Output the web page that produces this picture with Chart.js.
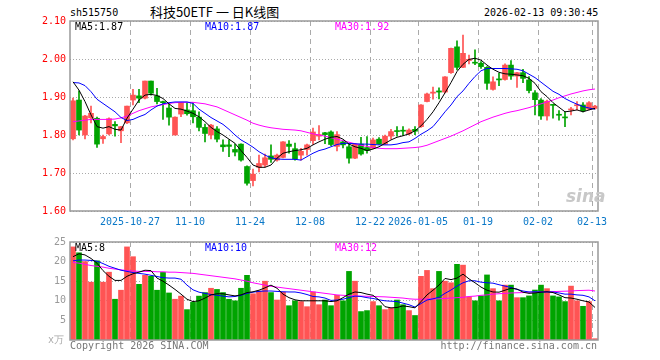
<!DOCTYPE html>
<html>
<head>
<meta charset="utf-8">
<script src="https://cdn.jsdelivr.net/npm/chart.js@4.4.1/dist/chart.umd.min.js"></script>
<style>
  body { margin: 0; background: #fff; width: 660px; height: 360px; overflow: hidden; position: relative; }
  canvas { position: absolute; left: 0; }
  #priceChart { top: 0; }
  #volChart { top: 232px; }
  .t { position: absolute; white-space: nowrap; font: 10px/10px "DejaVu Sans Mono", monospace; color: #000; }
</style>
</head>
<body>
<div class="t" style="left:70px;top:8px">sh515750</div>
<div class="t" style="left:150px;top:5px;font:13px/13px 'Noto Sans CJK SC'">科技50ETF 一 日K线图</div>
<div class="t" style="left:484px;top:8px">2026-02-13 09:30:45</div>
<canvas id="priceChart" width="660" height="232"></canvas>
<canvas id="volChart" width="660" height="128"></canvas>
<div class="t" style="left:566px;top:188px;font:italic bold 17px/17px 'DejaVu Sans';color:#c8c8c8">sina</div>
<div class="t" style="left:48px;top:335px;color:#aaa">x万</div>
<div class="t" style="left:70px;top:341px;color:#777">Copyright 2026 SINA.COM</div>
<div class="t" style="right:63px;top:341px;color:#777">http://finance.sina.com.cn</div>

<script>
const RED = "#ff5454";
const GREEN = "#00a400";
const GRID = "#aaa";
const MONO = "DejaVu Sans Mono";

// x ticks (candle index -> date label)
const tickPos = [10, 20, 30, 40, 50, 58, 68, 78, 87];
const tickLabels = ["2025-10-27", "11-10", "11-24", "12-08", "12-22", "2026-01-05", "01-19", "02-02", "02-13"];
const priceTicks = [1.6, 1.7, 1.8, 1.9, 2.0, 2.1];
const volTicks = [5, 10, 15, 20, 25];

const open = [1.790,1.892,1.800,1.845,1.844,1.790,1.803,1.828,1.811,1.832,
  1.892,1.903,1.897,1.942,1.903,1.888,1.871,1.800,1.855,1.866,
  1.864,1.847,1.820,1.800,1.816,1.774,1.774,1.762,1.776,1.717,
  1.680,1.715,1.721,1.745,1.734,1.741,1.776,1.764,1.747,1.762,
  1.785,1.797,1.806,1.808,1.770,1.782,1.769,1.739,1.776,1.767,
  1.765,1.789,1.776,1.797,1.811,1.811,1.803,1.815,1.822,1.888,
  1.910,1.916,1.913,1.964,2.032,1.978,1.996,1.991,1.989,1.978,
  1.920,1.947,1.946,1.984,1.955,1.964,1.945,1.911,1.892,1.850,
  1.880,1.854,1.847,1.866,1.877,1.879,1.868,1.870];
const high = [1.897,1.916,1.852,1.876,1.847,1.800,1.845,1.835,1.823,1.876,
  1.920,1.920,1.942,1.942,1.923,1.889,1.882,1.848,1.886,1.885,
  1.885,1.861,1.829,1.828,1.822,1.787,1.787,1.776,1.777,1.719,
  1.710,1.747,1.750,1.774,1.750,1.783,1.785,1.779,1.765,1.776,
  1.818,1.825,1.807,1.811,1.809,1.785,1.776,1.777,1.794,1.796,
  1.792,1.793,1.800,1.815,1.822,1.822,1.816,1.822,1.880,1.910,
  1.926,1.924,1.954,2.029,2.048,2.063,2.010,2.024,1.993,1.980,
  1.953,1.962,1.987,1.996,1.965,1.973,1.954,1.917,1.896,1.892,
  1.880,1.864,1.861,1.873,1.888,1.885,1.888,1.878];
const low = [1.787,1.800,1.790,1.832,1.767,1.778,1.800,1.797,1.780,1.830,
  1.879,1.885,1.895,1.905,1.882,1.841,1.826,1.800,1.848,1.852,
  1.832,1.811,1.782,1.790,1.782,1.757,1.743,1.745,1.731,1.668,
  1.666,1.703,1.716,1.728,1.731,1.740,1.752,1.734,1.734,1.747,
  1.775,1.787,1.777,1.772,1.758,1.766,1.726,1.738,1.747,1.752,
  1.764,1.775,1.775,1.789,1.797,1.799,1.800,1.801,1.820,1.887,
  1.894,1.895,1.911,1.962,1.971,1.977,1.987,1.985,1.975,1.920,
  1.918,1.930,1.944,1.946,1.925,1.938,1.911,1.853,1.841,1.839,
  1.844,1.839,1.822,1.853,1.866,1.861,1.866,1.868];
const close = [1.890,1.813,1.850,1.857,1.776,1.796,1.843,1.824,1.822,1.876,
  1.905,1.897,1.942,1.910,1.888,1.885,1.847,1.847,1.885,1.856,
  1.848,1.820,1.804,1.826,1.789,1.769,1.770,1.755,1.734,1.673,
  1.697,1.725,1.740,1.736,1.747,1.782,1.770,1.737,1.757,1.774,
  1.808,1.801,1.801,1.775,1.801,1.774,1.739,1.776,1.750,1.759,
  1.787,1.776,1.797,1.809,1.809,1.810,1.813,1.810,1.879,1.908,
  1.913,1.913,1.953,2.028,1.978,2.015,1.999,1.989,1.980,1.936,
  1.940,1.945,1.984,1.955,1.964,1.949,1.917,1.893,1.850,1.889,
  1.878,1.852,1.845,1.868,1.879,1.864,1.885,1.876];

const ma5 = [1.940,1.918,1.888,1.853,1.822,1.818,1.822,1.815,1.813,1.844,
  1.868,1.892,1.905,1.907,1.904,1.896,1.882,1.870,1.868,1.863,
  1.857,1.848,1.835,1.820,1.809,1.800,1.789,1.778,1.759,1.741,
  1.721,1.715,1.715,1.721,1.739,1.752,1.756,1.759,1.761,1.765,
  1.774,1.782,1.789,1.794,1.796,1.789,1.776,1.769,1.765,1.759,
  1.763,1.769,1.778,1.787,1.794,1.798,1.803,1.811,1.824,1.841,
  1.861,1.885,1.911,1.938,1.967,1.986,1.999,2.002,1.997,1.984,
  1.973,1.965,1.961,1.960,1.958,1.956,1.949,1.936,1.914,1.901,
  1.885,1.873,1.861,1.863,1.866,1.861,1.866,1.870];
const ma10 = [1.938,1.937,1.930,1.914,1.894,1.883,1.872,1.861,1.846,1.838,
  1.841,1.848,1.854,1.866,1.876,1.882,1.885,1.887,1.887,1.887,
  1.883,1.868,1.857,1.846,1.837,1.828,1.815,1.800,1.787,1.778,
  1.768,1.756,1.747,1.740,1.737,1.736,1.736,1.736,1.734,1.743,
  1.752,1.759,1.763,1.769,1.775,1.778,1.778,1.777,1.776,1.776,
  1.775,1.774,1.774,1.774,1.776,1.780,1.782,1.791,1.802,1.811,
  1.822,1.841,1.861,1.879,1.901,1.916,1.936,1.954,1.969,1.975,
  1.975,1.975,1.975,1.974,1.973,1.969,1.960,1.951,1.939,1.927,
  1.915,1.907,1.896,1.888,1.881,1.875,1.871,1.868];
const ma30 = [1.835,1.837,1.839,1.841,1.841,1.841,1.841,1.842,1.845,1.850,
  1.857,1.864,1.869,1.874,1.877,1.880,1.883,1.885,1.886,1.886,
  1.886,1.884,1.882,1.878,1.874,1.867,1.860,1.853,1.846,1.839,
  1.831,1.826,1.822,1.819,1.817,1.815,1.814,1.813,1.811,1.807,
  1.803,1.800,1.797,1.793,1.789,1.785,1.781,1.777,1.773,1.770,
  1.767,1.765,1.764,1.764,1.764,1.765,1.766,1.767,1.769,1.773,
  1.779,1.785,1.791,1.797,1.804,1.811,1.819,1.827,1.835,1.841,
  1.847,1.852,1.857,1.861,1.864,1.868,1.872,1.877,1.882,1.887,
  1.892,1.898,1.903,1.908,1.912,1.916,1.919,1.921];

// volume, in 万
const vol = [23.75,22.25,20.0,14.75,20.2,14.75,17.3,10.4,12.7,23.75,
  21.25,14.2,16.5,16.25,12.7,17.25,12.0,10.4,11.2,7.75,
  9.6,11.2,12.1,13.2,12.9,12.1,10.4,10.0,13.2,16.5,
  11.8,12.5,15.0,12.1,10.2,12.2,8.75,10.0,9.8,8.5,
  12.25,9.0,10.2,8.75,11.4,10.0,17.5,15.0,7.25,7.5,
  9.8,8.75,7.75,8.1,10.2,9.0,7.5,6.25,16.25,17.75,
  13.1,17.5,15.0,14.6,19.3,19.1,11.0,10.0,11.25,16.6,
  13.1,10.0,14.0,14.0,10.8,10.8,11.25,12.75,14.0,13.1,
  11.25,11.0,9.8,13.75,10.0,8.6,9.8,0.33];
const vma5 = [21.25,22.0,21.7,20.8,19.6,17.7,16.25,15.2,15.2,16.25,
  16.9,17.3,17.8,17.7,15.8,15.0,14.0,12.9,11.7,10.4,
  9.8,10.0,10.7,11.5,11.8,11.8,11.5,11.25,11.5,12.1,
  12.3,12.7,13.3,14.0,13.2,11.7,10.8,10.25,10.0,10.0,
  10.0,10.0,10.0,9.8,10.0,10.8,11.7,12.25,12.1,11.7,
  11.4,10.2,8.5,8.2,8.3,8.7,8.5,8.2,9.8,11.5,
  12.7,14.0,15.7,15.4,15.8,16.8,15.6,14.6,13.5,12.7,
  12.25,12.2,12.7,13.2,13.0,12.2,11.9,12.0,12.2,12.3,
  12.1,11.5,10.8,10.7,10.4,10.0,9.7,8.3];
const vma10 = [20.2,20.4,20.4,20.3,20.1,19.5,18.8,18.3,17.8,17.5,
  17.2,17.0,16.8,16.5,16.2,15.9,15.8,15.8,15.5,14.0,
  12.8,12.2,11.9,11.6,11.4,11.2,11.0,11.1,11.4,11.9,
  12.2,12.4,12.5,12.5,12.4,12.3,12.25,12.25,12.0,11.6,
  11.1,11.0,10.7,10.1,10.2,10.4,10.8,11.2,11.1,10.8,
  10.6,10.25,10.0,9.9,9.8,9.4,9.0,8.4,9.3,10.2,
  10.5,10.9,11.9,12.75,13.75,14.6,15.1,15.1,14.75,14.6,
  14.5,14.1,13.75,13.4,12.9,12.5,12.25,12.3,12.25,12.25,
  12.25,12.0,11.7,11.7,11.5,11.4,11.0,10.0];
const vma30 = [19.8,19.6,19.3,19.0,18.8,18.6,18.3,18.1,17.9,17.7,
  17.6,17.5,17.5,17.5,17.4,17.4,17.3,17.3,17.2,17.1,
  17.0,16.8,16.6,16.4,16.2,16.0,15.8,15.6,15.3,15.0,
  14.6,14.3,14.0,13.7,13.5,13.3,13.1,12.9,12.7,12.5,
  12.3,12.1,11.9,11.7,11.5,11.4,11.3,11.25,11.2,11.15,
  11.1,11.05,11.0,10.9,10.8,10.7,10.5,10.4,10.4,10.45,
  10.5,10.5,10.6,10.7,10.8,10.9,11.1,11.2,11.4,11.5,
  11.7,11.8,11.9,12.0,12.05,12.1,12.2,12.2,12.25,12.3,
  12.35,12.4,12.45,12.5,12.6,12.65,12.7,12.5];

const n = close.length;
const barColors = close.map((c, i) => (c >= open[i] ? RED : GREEN));
const pts = arr => arr.map((v, i) => ({ x: i, y: v }));

function maLine(arr, color) {
  return { type: "line", data: pts(arr), borderColor: color, borderWidth: 1, pointRadius: 0, tension: 0, order: 0 };
}

// same x layout for both panels: one slot per candle, grid at the slot's left edge
function xScale(showLabels, height) {
  return {
    type: "linear", min: -0.5, max: n - 0.5, offset: false,
    afterBuildTicks: ax => { ax.ticks = tickPos.map(p => ({ value: p - 0.5 })); },
    afterFit: ax => { ax.height = height; },
    grid: { offset: false, color: GRID, drawTicks: false },
    border: { display: false, dash: [5, 4] },
    ticks: {
      display: showLabels, autoSkip: false, maxRotation: 0, padding: 5,
      color: "#0a78c8", font: { family: MONO, size: 10 },
      callback: (v, i) => tickLabels[i]
    }
  };
}

function yScale(min, max, ticks, color, fmt) {
  return {
    min, max, beginAtZero: false,
    afterBuildTicks: ax => { ax.ticks = ticks.map(v => ({ value: v })); },
    afterFit: ax => { ax.width = 70; },
    grid: { color: GRID, drawTicks: false },
    border: { display: false, dash: [1, 2] },
    ticks: { color, padding: 4, font: { family: MONO, size: 10 }, callback: fmt }
  };
}

// frame + MA legend texts inside each panel
function panelPlugin(labels) {
  return {
    id: "panel",
    afterDraw(chart) {
      const { ctx, chartArea: a } = chart;
      ctx.save();
      ctx.strokeStyle = "#999";
      ctx.lineWidth = 1.5;
      ctx.strokeRect(a.left, a.top, a.right - a.left, a.bottom - a.top);
      ctx.font = `10px "${MONO}"`;
      ctx.textBaseline = "middle";
      labels.forEach(([text, color, dx]) => {
        ctx.fillStyle = color;
        ctx.fillText(text, a.left + dx, a.top + 6);
      });
      ctx.restore();
    }
  };
}

const common = {
  responsive: false,
  animation: false,
  plugins: { legend: { display: false }, tooltip: { enabled: false } }
};

new Chart(document.getElementById("priceChart"), {
  type: "bar",
  data: {
    datasets: [
      maLine(ma5, "#000"),
      maLine(ma10, "#0000ff"),
      maLine(ma30, "#ff00ff"),
      { data: open.map((o, i) => ({ x: i, y: [o, close[i]] })), backgroundColor: barColors,
        barThickness: 5, minBarLength: 1, grouped: false, order: 1 },
      { data: low.map((l, i) => ({ x: i, y: [l, high[i]] })), backgroundColor: barColors,
        barThickness: 1, grouped: false, order: 2 }
    ]
  },
  options: {
    ...common,
    layout: { padding: { top: 21, right: 62, left: 0, bottom: 0 } },
    scales: {
      x: xScale(true, 21),
      y: yScale(1.6, 2.1, priceTicks, "#ff0000", v => v.toFixed(2))
    }
  },
  plugins: [panelPlugin([
    ["MA5:" + ma5[n - 1].toFixed(2), "#000", 5],
    ["MA10:" + ma10[n - 1].toFixed(2), "#0000ff", 135],
    ["MA30:" + ma30[n - 1].toFixed(2), "#ff00ff", 265]
  ])]
});

new Chart(document.getElementById("volChart"), {
  type: "bar",
  data: {
    datasets: [
      maLine(vma5, "#000"),
      maLine(vma10, "#0000ff"),
      maLine(vma30, "#ff00ff"),
      { data: pts(vol), backgroundColor: barColors, barThickness: 5, grouped: false, order: 1 }
    ]
  },
  options: {
    ...common,
    layout: { padding: { top: 8, right: 62, left: 0, bottom: 0 } },
    scales: {
      x: xScale(false, 20),
      y: yScale(0, 25, volTicks, "#999", v => String(v))
    }
  },
  plugins: [panelPlugin([
    ["MA5:" + Math.floor(vma5[n - 1]), "#000", 5],
    ["MA10:" + Math.floor(vma10[n - 1]), "#0000ff", 135],
    ["MA30:" + Math.floor(vma30[n - 1]), "#ff00ff", 265]
  ])]
});
</script>
</body>
</html>
